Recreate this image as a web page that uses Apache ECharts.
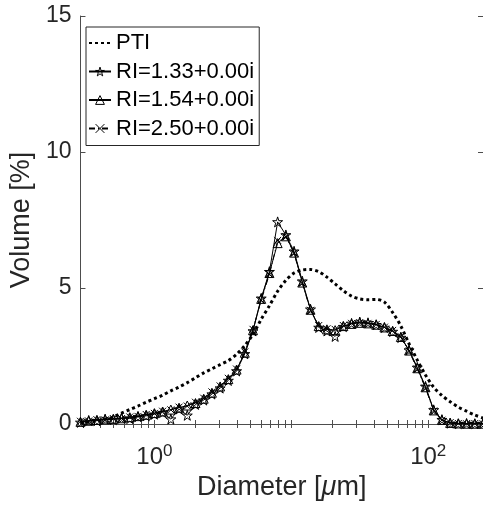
<!DOCTYPE html>
<html>
<head>
<meta charset="utf-8">
<script src="https://cdn.jsdelivr.net/npm/echarts@6/dist/echarts.min.js"></script>
<style>
  html, body { margin: 0; padding: 0; background: #fff; }
  #chart { width: 483px; height: 507px; }
</style>
</head>
<body>
<div id="chart"></div>
<script>
// bin diameters (um), log-spaced
const diameters = [0.2884, 0.3311, 0.3802, 0.4365, 0.5012, 0.5754, 0.6607, 0.7586, 0.8710, 1.0000,
  1.1482, 1.3183, 1.5136, 1.7378, 1.9953, 2.2909, 2.6303, 3.0200, 3.4674, 3.9811,
  4.5709, 5.2481, 6.0256, 6.9183, 7.9433, 9.1201, 10.4713, 12.0226, 13.8038, 15.8489,
  18.1970, 20.8930, 23.9883, 27.5423, 31.6228, 36.3078, 41.6869, 47.8630, 54.9541, 63.0957,
  72.4436, 83.1764, 95.4993, 109.6478, 125.8925, 144.5440, 165.9587, 190.5461, 218.7762, 251.1886];

const seriesNames = ['PTI', 'RI=1.33+0.00i', 'RI=1.54+0.00i', 'RI=2.50+0.00i'];

const ptiValues = [0.04, 0.07, 0.12, 0.18, 0.26, 0.40, 0.53, 0.66, 0.80, 0.93,
  1.06, 1.22, 1.36, 1.52, 1.70, 1.88, 2.03, 2.18, 2.33, 2.56,
  2.88, 3.30, 3.85, 4.35, 4.88, 5.28, 5.55, 5.66, 5.68, 5.60,
  5.40, 5.15, 4.90, 4.70, 4.60, 4.57, 4.58, 4.48, 4.10, 3.60,
  2.95, 2.35, 1.80, 1.35, 1.05, 0.82, 0.62, 0.47, 0.33, 0.22];

const ri133Values = [0.06, 0.13, 0.12, 0.18, 0.16, 0.22, 0.20, 0.27, 0.30, 0.36,
  0.42, 0.18, 0.55, 0.32, 0.72, 0.88, 1.10, 1.32, 1.60, 1.95,
  2.58, 3.42, 4.62, 5.60, 7.43, 6.95, 6.35, 5.25, 4.22, 3.55,
  3.42, 3.22, 3.58, 3.70, 3.75, 3.72, 3.65, 3.55, 3.40, 3.18,
  2.72, 2.08, 1.38, 0.52, 0.16, 0.03, 0.01, 0.02, 0.01, 0.02];

const ri154Values = [0.08, 0.12, 0.15, 0.17, 0.19, 0.21, 0.25, 0.29, 0.34, 0.40,
  0.46, 0.53, 0.60, 0.68, 0.77, 0.93, 1.15, 1.38, 1.65, 2.00,
  2.62, 3.45, 4.60, 5.55, 6.65, 6.90, 6.30, 5.20, 4.20, 3.60,
  3.48, 3.45, 3.60, 3.68, 3.72, 3.70, 3.65, 3.55, 3.42, 3.20,
  2.70, 2.05, 1.35, 0.50, 0.15, 0.04, 0.02, 0.01, 0.01, 0.01];

const ri250Values = [0.10, 0.11, 0.16, 0.15, 0.20, 0.20, 0.26, 0.28, 0.35, 0.39,
  0.47, 0.52, 0.62, 0.66, 0.80, 0.95, 1.18, 1.40, 1.68, 2.02,
  2.65, 3.48, 4.55, 5.50, 6.75, 6.88, 6.28, 5.18, 4.18, 3.62,
  3.50, 3.48, 3.62, 3.70, 3.73, 3.70, 3.66, 3.56, 3.44, 3.22,
  2.68, 2.02, 1.32, 0.48, 0.14, 0.05, 0.02, 0.01, 0.02, 0.01];

const xTickValues = [0.3, 0.4, 0.5, 0.6, 0.7, 0.8, 0.9, 1, 2, 3, 4, 5, 6, 7, 8, 9,
  10, 20, 30, 40, 50, 60, 70, 80, 90, 100, 200];
const xLabelValues = [1, 100];

const FONT = '"Liberation Sans", Arial, sans-serif';
const AXIS_COLOR = '#4d4d4d';
const TEXT_COLOR = '#262626';

const starPath = 'path://M50,0L61.2,34.5L97.6,34.5L68.2,55.9L79.4,90.5L50,69.1L20.6,90.5L31.8,55.9L2.4,34.5L38.8,34.5Z';
const crossPath = 'path://M0,0L10,10M10,0L0,10';

const pairs = vals => diameters.map((d, i) => [d, vals[i]]);

const chart = echarts.init(document.getElementById('chart'), null, { renderer: 'canvas' });

const markerStyle = { color: 'rgba(255,255,255,0)', borderColor: '#000', borderWidth: 1 };

const option = {
  animation: false,
  backgroundColor: '#fff',
  textStyle: { fontFamily: FONT },
  grid: { left: 77, top: 16, right: 0, bottom: 83 },
  legend: {
    orient: 'vertical',
    left: 86,
    top: 27,
    padding: [4, 5, 5, 2],
    itemWidth: 22,
    itemHeight: 11,
    itemGap: 4.5,
    borderColor: '#262626',
    borderWidth: 1,
    backgroundColor: '#fff',
    itemStyle: { color: 'rgba(255,255,255,0)', borderColor: '#000', borderWidth: 1 },
    textStyle: { fontFamily: FONT, fontSize: 22, color: '#000', lineHeight: 24 },
    data: [
      { name: seriesNames[0], itemStyle: { color: 'rgba(255,255,255,0)', borderWidth: 0 } },
      seriesNames[1], seriesNames[2], seriesNames[3]
    ]
  },
  xAxis: [{
    type: 'log',
    logBase: 10,
    min: diameters[0],
    max: diameters[diameters.length - 1],
    position: 'bottom',
    axisLine: { show: true, lineStyle: { color: AXIS_COLOR, width: 1 } },
    axisTick: { show: true, inside: true, length: 4, customValues: xTickValues, lineStyle: { color: AXIS_COLOR } },
    splitLine: { show: false },
    axisLabel: {
      customValues: xLabelValues,
      margin: 19,
      color: TEXT_COLOR,
      formatter: v => '{b|10}{s|' + Math.round(Math.log10(v)) + '}',
      rich: {
        b: { fontSize: 24, fontFamily: FONT, color: TEXT_COLOR },
        s: { fontSize: 17, fontFamily: FONT, color: TEXT_COLOR, padding: [0, 0, 11, 0] }
      }
    },
    name: '{a|Diameter [}{m|\u03bc}{a|m]}',
    nameLocation: 'middle',
    nameGap: 49,
    nameTextStyle: {
      rich: {
        a: { fontSize: 27, fontFamily: FONT, color: TEXT_COLOR },
        m: { fontSize: 27, fontFamily: FONT, color: TEXT_COLOR, fontStyle: 'italic' }
      }
    }
  }, {
    type: 'log',
    logBase: 10,
    min: diameters[0],
    max: diameters[diameters.length - 1],
    position: 'top',
    axisLine: { show: true, lineStyle: { color: AXIS_COLOR, width: 1 } },
    axisTick: { show: true, inside: true, length: 4, customValues: xTickValues, lineStyle: { color: AXIS_COLOR } },
    axisLabel: { show: false },
    splitLine: { show: false }
  }],
  yAxis: [{
    type: 'value',
    min: 0,
    max: 15,
    interval: 5,
    position: 'left',
    axisLine: { show: true, lineStyle: { color: AXIS_COLOR, width: 1 } },
    axisTick: { show: true, inside: true, length: 5, lineStyle: { color: AXIS_COLOR } },
    splitLine: { show: false },
    axisLabel: { fontSize: 23, fontFamily: FONT, color: TEXT_COLOR, margin: 9 },
    name: 'Volume [%]',
    nameLocation: 'middle',
    nameGap: 36,
    nameTextStyle: { fontSize: 27, fontFamily: FONT, color: TEXT_COLOR }
  }, {
    type: 'value',
    min: 0,
    max: 15,
    interval: 5,
    position: 'right',
    axisLine: { show: true, lineStyle: { color: AXIS_COLOR, width: 1 } },
    axisTick: { show: true, inside: true, length: 5, lineStyle: { color: AXIS_COLOR } },
    axisLabel: { show: false },
    splitLine: { show: false }
  }],
  series: [{
    name: seriesNames[0],
    type: 'line',
    data: pairs(ptiValues),
    smooth: 0.3,
    symbol: 'none',
    lineStyle: { color: '#000', width: 3, type: [3, 3], cap: 'butt' },
    itemStyle: { color: '#000' },
    z: 2
  }, {
    name: seriesNames[1],
    type: 'line',
    data: pairs(ri133Values),
    symbol: starPath,
    symbolSize: 10,
    lineStyle: { color: '#000', width: 1 },
    itemStyle: markerStyle,
    z: 3
  }, {
    name: seriesNames[2],
    type: 'line',
    data: pairs(ri154Values),
    symbol: 'triangle',
    symbolSize: 9,
    lineStyle: { color: '#000', width: 1 },
    itemStyle: markerStyle,
    z: 3
  }, {
    name: seriesNames[3],
    type: 'line',
    data: pairs(ri250Values),
    symbol: crossPath,
    symbolSize: 7,
    lineStyle: { color: '#000', width: 1, type: [6, 3, 1, 3] },
    itemStyle: markerStyle,
    z: 3
  }]
};

chart.setOption(option);
</script>
</body>
</html>
